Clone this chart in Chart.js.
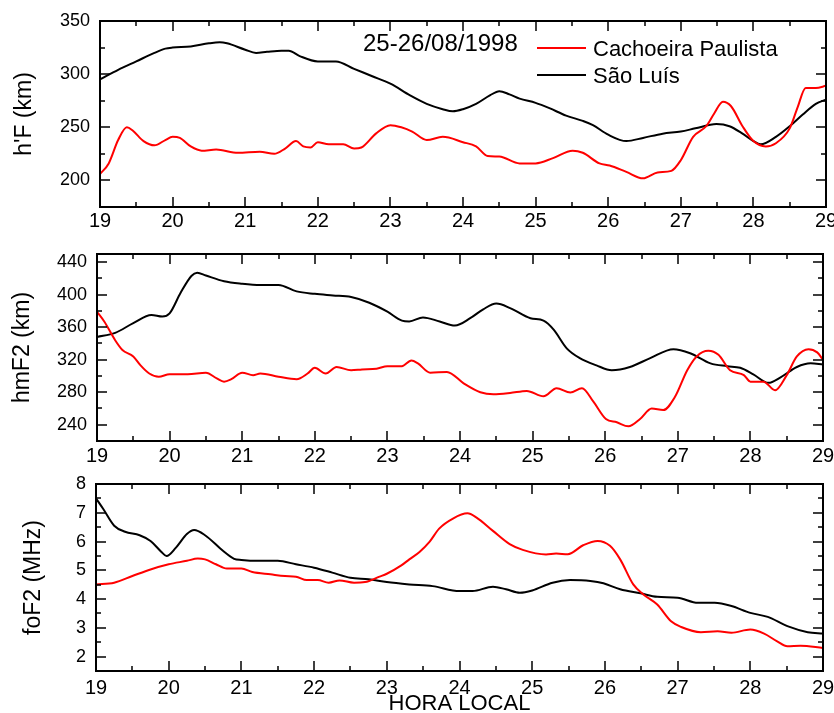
<!DOCTYPE html>
<html>
<head>
<meta charset="utf-8">
<title>hF, hmF2, foF2 - 25-26/08/1998</title>
<script src="https://cdn.jsdelivr.net/npm/chart.js@4.4.1/dist/chart.umd.min.js"></script>
<style>
    body { margin: 0; background: #fff; overflow: hidden; }
    .panel { position: absolute; left: 0; }
</style>
</head>
<body>
<div class="panel" style="top:0px"><canvas id="hfChart" width="834" height="232"></canvas></div>
<div class="panel" style="top:235px"><canvas id="hmChart" width="834" height="230"></canvas></div>
<div class="panel" style="top:466px"><canvas id="foChart" width="834" height="251"></canvas></div>
<script>
// Data (hora local, 19h day 25 -> 29 = 5h day 26)
const dateLabel = "25-26/08/1998";
const stationCP = "Cachoeira Paulista";
const stationSL = "São Luís";
const hourTicks = [19, 20, 21, 22, 23, 24, 25, 26, 27, 28, 29];

// h'F (km)
const hfTicks = [200, 250, 300, 350];
const hfTimeCP = [19.0, 19.12, 19.25, 19.37, 19.45, 19.6, 19.75, 19.9, 20.0, 20.1, 20.25, 20.4, 20.6, 20.9, 21.2, 21.4, 21.55, 21.7, 21.8, 21.9,
    22.0, 22.15, 22.35, 22.5, 22.6, 22.8, 23.0, 23.15, 23.3, 23.5, 23.72, 24.0, 24.18, 24.34, 24.5, 24.78, 25.0, 25.24, 25.51, 25.65,
    25.88, 26.02, 26.25, 26.48, 26.68, 26.87, 27.0, 27.17, 27.35, 27.46, 27.58, 27.69, 27.85, 28.0, 28.17, 28.31, 28.5, 28.61, 28.72, 28.86, 29.0];
const hfCP = [206, 216, 238, 250, 247, 237, 233, 238, 241, 240, 232, 228, 229, 226, 227, 225, 230, 237, 232, 231,
    236, 234, 234, 230, 231, 244, 252, 250, 246, 238, 241, 236, 232, 223, 222.5, 216, 216, 221, 228, 226,
    216, 214, 208, 202, 207.5, 209, 219, 241, 251, 263, 274, 270, 251, 237, 232, 235, 249, 269, 287, 287, 289];
const hfTimeSL = [19.0, 19.25, 19.5, 19.75, 19.9, 20.0, 20.25, 20.5, 20.65, 20.75, 21.0, 21.15, 21.3, 21.5, 21.6, 21.75, 22.0, 22.25, 22.5, 22.75,
    23.0, 23.27, 23.5, 23.72, 23.86, 24.0, 24.18, 24.37, 24.5, 24.64, 24.78, 25.0, 25.19, 25.42, 25.65, 25.79, 26.0, 26.25, 26.48, 26.75,
    27.0, 27.2, 27.49, 27.67, 27.85, 28.0, 28.1, 28.31, 28.5, 28.68, 28.86, 29.0];
const hfSL = [295, 304, 312, 320, 324, 325, 326, 329, 330, 329, 323, 320, 321, 322, 322, 317, 312, 312, 305, 298,
    291, 280, 272, 267, 265, 267, 272, 280, 284, 281, 277, 273, 268, 261, 256, 252, 243, 237, 240, 244,
    246, 249, 253, 251, 244, 237, 234, 241, 251, 262, 272, 276];

// hmF2 (km)
const hmTicks = [240, 280, 320, 360, 400, 440];
const hmTimeCP = [19.0, 19.1, 19.25, 19.35, 19.5, 19.6, 19.72, 19.85, 20.0, 20.25, 20.5, 20.65, 20.75, 20.85, 21.0, 21.15, 21.25, 21.5, 21.75, 21.9,
    22.0, 22.15, 22.3, 22.5, 22.65, 22.85, 23.0, 23.2, 23.33, 23.42, 23.59, 23.82, 24.05, 24.28, 24.46, 24.69, 24.92, 25.15, 25.33, 25.52,
    25.68, 25.84, 26.01, 26.16, 26.32, 26.48, 26.64, 26.8, 26.96, 27.13, 27.26, 27.42, 27.56, 27.72, 27.91, 28.0, 28.18, 28.34, 28.5, 28.64,
    28.8, 28.92, 29.0];
const hmCP = [379, 367, 344, 332, 324, 313, 303, 299, 302, 302, 304, 297, 293, 296, 304, 301, 303, 299, 296, 303,
    310, 303, 311, 307, 308, 309, 312, 312, 319, 315.5, 304, 305, 291, 280, 277.5, 279, 281.6, 275, 285, 279.6,
    285, 268, 247, 243, 238, 247, 260, 258, 274, 307, 324, 331, 326, 307, 301, 293, 293, 282.5, 301, 324,
    333, 329, 320];
const hmTimeSL = [19.0, 19.25, 19.5, 19.75, 19.9, 20.0, 20.15, 20.3, 20.38, 20.5, 20.75, 21.0, 21.25, 21.5, 21.75, 22.0, 22.25, 22.5, 22.75, 23.0,
    23.2, 23.3, 23.49, 23.72, 23.93, 24.14, 24.32, 24.5, 24.69, 24.97, 25.15, 25.29, 25.47, 25.65, 25.88, 26.09, 26.34, 26.62, 26.94, 27.17,
    27.45, 27.68, 27.86, 28.04, 28.25, 28.41, 28.64, 28.83, 29.0];
const hmSL = [348, 353, 365, 375, 373, 377, 402, 423, 427, 423.5, 416.5, 413.5, 412, 412, 404, 401, 399, 397, 390, 379,
    368, 367, 372, 367, 362, 371, 382, 389, 383.5, 371, 368, 357, 334, 322, 313, 307, 311, 322, 333, 328,
    315.5, 312, 310, 302, 291.5, 298, 311, 315.5, 314];

// foF2 (MHz)
const foTicks = [2, 3, 4, 5, 6, 7, 8];
const foTimeCP = [19.0, 19.25, 19.5, 19.75, 20.0, 20.25, 20.4, 20.5, 20.65, 20.8, 21.0, 21.15, 21.4, 21.6, 21.75, 21.9, 22.05, 22.2, 22.35, 22.55,
    22.7, 22.9, 23.0, 23.2, 23.31, 23.45, 23.59, 23.72, 23.91, 24.11, 24.23, 24.46, 24.69, 24.87, 25.19, 25.33, 25.49, 25.7, 25.9, 26.07,
    26.21, 26.39, 26.53, 26.72, 26.91, 27.05, 27.32, 27.55, 27.74, 28.0, 28.19, 28.37, 28.51, 28.69, 29.0];
const foCP = [4.51, 4.57, 4.8, 5.03, 5.21, 5.33, 5.41, 5.38, 5.21, 5.06, 5.06, 4.94, 4.86, 4.8, 4.78, 4.66, 4.66, 4.57, 4.65, 4.57,
    4.59, 4.78, 4.88, 5.17, 5.38, 5.64, 6.0, 6.45, 6.8, 6.98, 6.84, 6.37, 5.91, 5.71, 5.55, 5.58, 5.56, 5.87, 6.02, 5.85,
    5.38, 4.51, 4.16, 3.81, 3.23, 3.03, 2.85, 2.88, 2.83, 2.94, 2.8, 2.53, 2.36, 2.38, 2.3];
const foTimeSL = [19.0, 19.1, 19.25, 19.4, 19.6, 19.75, 19.9, 19.97, 20.1, 20.25, 20.35, 20.5, 20.75, 20.9, 21.0, 21.25, 21.5, 21.75, 22.0, 22.25,
    22.5, 22.75, 23.0, 23.31, 23.63, 24.0, 24.18, 24.46, 24.64, 24.83, 25.0, 25.28, 25.52, 25.8, 25.98, 26.21, 26.49, 26.72, 27.0, 27.28,
    27.51, 27.74, 28.0, 28.24, 28.51, 28.79, 29.0];
const foSL = [7.5, 7.13, 6.55, 6.34, 6.22, 6.02, 5.64, 5.5, 5.79, 6.26, 6.4, 6.22, 5.67, 5.4, 5.36, 5.33, 5.33, 5.21, 5.09, 4.92,
    4.74, 4.69, 4.59, 4.51, 4.45, 4.28, 4.28, 4.43, 4.34, 4.22, 4.3, 4.57, 4.66, 4.63, 4.55, 4.34, 4.2, 4.08, 4.05, 3.87,
    3.87, 3.76, 3.52, 3.38, 3.06, 2.85, 2.8];

const FONT = '"Liberation Sans", Arial, sans-serif';
const RED = '#ff0000';
const BLACK = '#000000';

// pair up time + value arrays for a linear x axis
function toPoints(times, values) {
    return times.map((t, i) => ({ x: t, y: values[i] }));
}

// box around plot + inward ticks on all four sides
const frameTicks = {
    id: 'frameTicks',
    afterDraw(chart, args, opts) {
        const ctx = chart.ctx;
        const a = chart.chartArea;
        const x = chart.scales.x;
        const y = chart.scales.y;
        const isMajor = (list, v) => list.some(m => Math.abs(m - v) < 1e-6);
        ctx.save();
        ctx.strokeStyle = '#000';
        ctx.lineWidth = 1.5;
        ctx.beginPath();
        const nx = Math.floor((x.max - x.min) / opts.xStep + 1e-6);
        for (let i = 0; i <= nx; i++) {
            const v = x.min + i * opts.xStep;
            const len = isMajor(hourTicks, v) ? 10 : 5;
            const px = Math.round(x.getPixelForValue(v));
            ctx.moveTo(px, a.bottom); ctx.lineTo(px, a.bottom - len);
            ctx.moveTo(px, a.top); ctx.lineTo(px, a.top + len);
        }
        const ny = Math.floor((y.max - y.min) / opts.yStep + 1e-6);
        for (let i = 0; i <= ny; i++) {
            const v = y.min + i * opts.yStep;
            const len = isMajor(opts.majors, v) ? 10 : 5;
            const py = Math.round(y.getPixelForValue(v));
            ctx.moveTo(a.left, py); ctx.lineTo(a.left + len, py);
            ctx.moveTo(a.right, py); ctx.lineTo(a.right - len, py);
        }
        ctx.stroke();
        ctx.lineWidth = 2;
        ctx.strokeRect(a.left, a.top, a.right - a.left, a.bottom - a.top);
        ctx.restore();
    }
};

// date + legend inside the top panel
const keyBox = {
    id: 'keyBox',
    afterDraw(chart) {
        const ctx = chart.ctx;
        ctx.save();
        ctx.fillStyle = '#000';
        ctx.textBaseline = 'alphabetic';
        ctx.font = '24px ' + FONT;
        ctx.fillText(dateLabel, 363, 51);
        ctx.font = '22px ' + FONT;
        chart.data.datasets.forEach((ds, i) => {
            const ly = 48 + i * 27;
            ctx.strokeStyle = ds.borderColor;
            ctx.lineWidth = 2;
            ctx.beginPath();
            ctx.moveTo(537, ly);
            ctx.lineTo(586, ly);
            ctx.stroke();
            ctx.fillText(ds.label, 593, ly + 8);
        });
        ctx.restore();
    }
};

function makePanel(id, cfg) {
    const datasets = [
        { label: stationCP, data: toPoints(cfg.timeCP, cfg.valCP), borderColor: RED },
        { label: stationSL, data: toPoints(cfg.timeSL, cfg.valSL), borderColor: BLACK }
    ].map(d => Object.assign(d, {
        borderWidth: 2,
        pointRadius: 0,
        fill: false,
        cubicInterpolationMode: 'monotone'
    }));

    return new Chart(document.getElementById(id), {
        type: 'line',
        data: { datasets: datasets },
        options: {
            responsive: false,
            animation: false,
            events: [],
            layout: { padding: { top: cfg.top, right: cfg.right, left: 0, bottom: 0 } },
            plugins: {
                legend: { display: false },
                tooltip: { enabled: false },
                frameTicks: { xStep: 0.5, yStep: cfg.yStep, majors: cfg.yTicks }
            },
            scales: {
                x: {
                    type: 'linear',
                    min: 19,
                    max: 29,
                    afterBuildTicks: s => { s.ticks = hourTicks.map(v => ({ value: v })); },
                    afterFit: s => { s.height = cfg.xHeight; s.paddingLeft = 0; s.paddingRight = 0; },
                    grid: { display: false, drawTicks: false },
                    border: { display: false },
                    ticks: { color: '#000', font: { family: FONT, size: 20 }, padding: cfg.xPad, maxRotation: 0, autoSkip: false },
                    title: cfg.xTitle ? {
                        display: true, text: cfg.xTitle, color: '#000',
                        font: { family: FONT, size: 22 }, padding: 0
                    } : { display: false }
                },
                y: {
                    type: 'linear',
                    min: cfg.yMin,
                    max: cfg.yMax,
                    afterBuildTicks: s => { s.ticks = cfg.yTicks.map(v => ({ value: v })); },
                    afterFit: s => { s.width = cfg.left; s.paddingTop = 0; s.paddingBottom = 0; },
                    grid: { display: false, drawTicks: false },
                    border: { display: false },
                    ticks: { color: '#000', font: { family: FONT, size: 18 }, padding: 10 },
                    title: {
                        display: true, text: cfg.yTitle, color: '#000',
                        font: { family: FONT, size: 23 }, padding: { top: cfg.titlePad, bottom: 0 }
                    }
                }
            }
        },
        plugins: cfg.withKey ? [frameTicks, keyBox] : [frameTicks]
    });
}

makePanel('hfChart', {
    timeCP: hfTimeCP, valCP: hfCP, timeSL: hfTimeSL, valSL: hfSL,
    yMin: 175, yMax: 350, yStep: 25, yTicks: hfTicks, yTitle: "h'F (km)",
    top: 21, right: 8, left: 100, xHeight: 25, xPad: 2, titlePad: 11, withKey: true
});

makePanel('hmChart', {
    timeCP: hmTimeCP, valCP: hmCP, timeSL: hmTimeSL, valSL: hmSL,
    yMin: 220, yMax: 450, yStep: 20, yTicks: hmTicks, yTitle: 'hmF2 (km)',
    top: 19, right: 11, left: 97, xHeight: 24, xPad: 3, titlePad: 9
});

makePanel('foChart', {
    timeCP: foTimeCP, valCP: foCP, timeSL: foTimeSL, valSL: foSL,
    yMin: 1.5, yMax: 8, yStep: 0.5, yTicks: foTicks, yTitle: 'foF2 (MHz)',
    top: 18, right: 11, left: 96, xHeight: 46, xPad: 5, titlePad: 20, xTitle: 'HORA LOCAL'
});
</script>
</body>
</html>
